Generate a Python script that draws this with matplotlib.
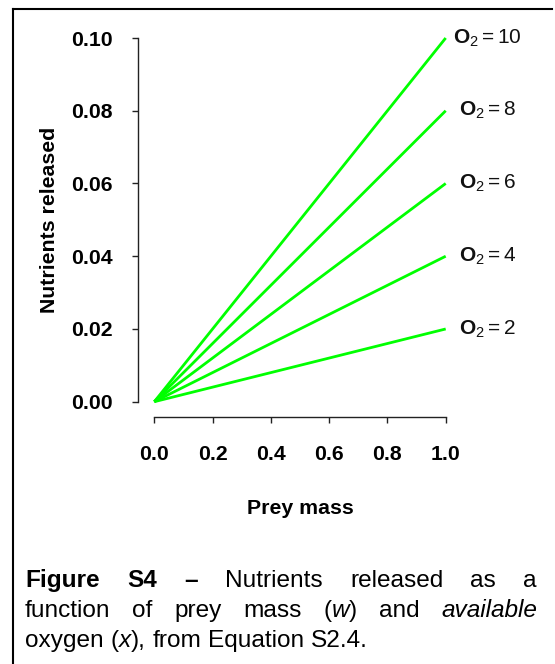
import matplotlib
matplotlib.use("Agg")
import matplotlib.pyplot as plt
from matplotlib.lines import Line2D
from matplotlib.transforms import IdentityTransform

plt.rcParams['font.family'] = 'Liberation Sans'
plt.rcParams['mathtext.fontset'] = 'custom'
plt.rcParams['mathtext.rm'] = 'Liberation Sans'
plt.rcParams['mathtext.bf'] = 'Liberation Sans:bold'
plt.rcParams['mathtext.it'] = 'Liberation Sans:italic'

# Data
prey_mass = [0.0, 1.0]
oxygen = [2, 4, 6, 8, 10]
nutrients_start = [0.0, 0.0, 0.0, 0.0, 0.0]
nutrients_end = [0.02, 0.04, 0.06, 0.08, 0.10]
x_ticks = [0.0, 0.2, 0.4, 0.6, 0.8, 1.0]
x_tick_labels = ['0.0', '0.2', '0.4', '0.6', '0.8', '1.0']
y_ticks = [0.00, 0.02, 0.04, 0.06, 0.08, 0.10]
y_tick_labels = ['0.00', '0.02', '0.04', '0.06', '0.08', '0.10']

W, H = 555, 664
fig = plt.figure(figsize=(W / 100, H / 100), dpi=100)
ax = fig.add_axes([154.3 / W, 262.3 / H, 291.4 / W, 363.7 / H])

for o2, n0, n1 in zip(oxygen, nutrients_start, nutrients_end):
    ax.plot(prey_mass, [n0, n1], color='#00ff00', lw=2, solid_capstyle='butt', clip_on=False)
    ax.text(1.144, n1, rf'$\mathbf{{O}}_2 = {o2}$', ha='center', va='center',
            fontsize=15, color='#111111')

ax.set_xlim(0, 1)
ax.set_ylim(0, 0.1)

# R-style detached axes
for side in ['top', 'right']:
    ax.spines[side].set_visible(False)
ax.spines['left'].set_position(('outward', 11.5))
ax.spines['bottom'].set_position(('outward', 11.2))
ax.spines['left'].set_bounds(0, 0.1)
ax.spines['bottom'].set_bounds(0, 1)
for side in ['left', 'bottom']:
    ax.spines[side].set_linewidth(1.0)
    ax.spines[side].set_color('#222222')

ax.set_xticks(x_ticks, x_tick_labels)
ax.set_yticks(y_ticks, y_tick_labels)
ax.tick_params(axis='both', direction='out', length=4.3, width=1.0, labelsize=15.3, colors='#222222')
ax.tick_params(axis='y', pad=14)
ax.tick_params(axis='x', pad=16)
for lab in ax.get_xticklabels() + ax.get_yticklabels():
    lab.set_fontweight('bold')
    lab.set_color('black')

ax.set_xlabel('Prey mass', fontsize=15.3, fontweight='bold')
ax.set_ylabel('Nutrients released', fontsize=15.3, fontweight='bold')
ax.xaxis.label.set_va('center')
ax.yaxis.label.set_va('center')
ax.xaxis.set_label_coords(0.5, -0.295)
ax.yaxis.set_label_coords(-0.361, 0.5)

# Frame lines around the figure panel
fig.add_artist(Line2D([13, 552], [H - 9, H - 9], transform=IdentityTransform(), color='black', lw=1.5))
fig.add_artist(Line2D([13, 13], [0, H - 9], transform=IdentityTransform(), color='black', lw=1.5))

# Caption, justified like the original document
renderer = fig.canvas.get_renderer()
CAP_SIZE = 17.6


def place_line(words, baseline, x0, x1, justify):
    items = []
    for word in words:
        segs = []
        for s, wt, st in word:
            t = fig.text(0, 0, s, fontsize=CAP_SIZE, fontweight=wt, fontstyle=st,
                         transform=IdentityTransform(), va='baseline', ha='left')
            segs.append((t, t.get_window_extent(renderer).width))
        items.append(segs)
    widths = [sum(w for _, w in segs) for segs in items]
    if justify:
        gap = (x1 - x0 - sum(widths)) / (len(items) - 1)
    else:
        gap = 0.278 * CAP_SIZE * 100 / 72
    x = x0
    for segs in items:
        for t, w in segs:
            t.set_position((x, H - baseline))
            x += w
        x += gap


B, N, I = 'bold', 'normal', 'italic'
line1 = [[('Figure', B, N)], [('S4', B, N)], [('–', B, N)], [('Nutrients', N, N)],
         [('released', N, N)], [('as', N, N)], [('a', N, N)]]
line2 = [[('function', N, N)], [('of', N, N)], [('prey', N, N)], [('mass', N, N)],
         [('(', N, N), ('w', N, I), (')', N, N)], [('and', N, N)], [('available', N, I)]]
line3 = [[('oxygen', N, N)], [('(', N, N), ('x', N, I), ('),', N, N)], [('from', N, N)],
         [('Equation', N, N)], [('S2.4.', N, N)]]

place_line(line1, 587, 25, 537, True)
place_line(line2, 617, 25, 537, True)
place_line(line3, 647, 25, 537, False)

fig.savefig('out.png', dpi=100)
